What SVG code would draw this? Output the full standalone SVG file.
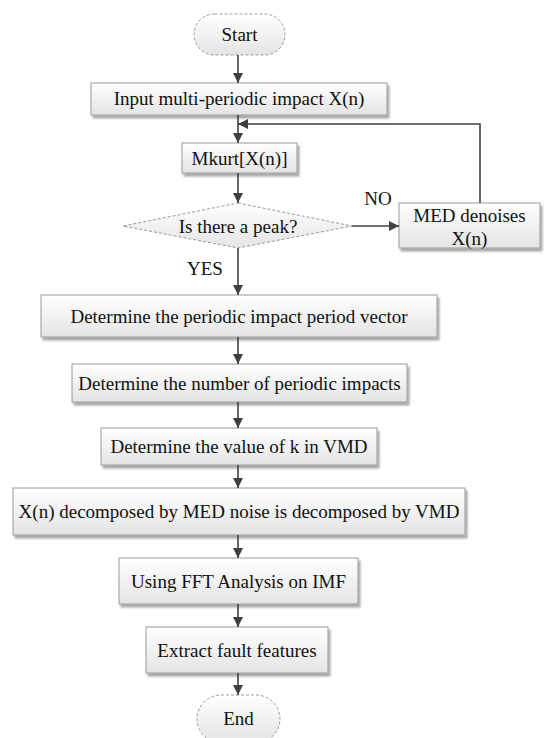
<svg xmlns="http://www.w3.org/2000/svg" width="550" height="738" viewBox="0 0 550 738">
<defs>
<linearGradient id="g" x1="0" y1="0" x2="0" y2="1">
<stop offset="0" stop-color="#ffffff"/>
<stop offset="1" stop-color="#e4e4e4"/>
</linearGradient>
<filter id="shadow" x="-5%" y="-20%" width="115%" height="150%">
<feGaussianBlur in="SourceAlpha" stdDeviation="1.2"/>
<feOffset dx="1.5" dy="2.5" result="b"/>
<feComponentTransfer><feFuncA type="linear" slope="0.35"/></feComponentTransfer>
<feMerge><feMergeNode/><feMergeNode in="SourceGraphic"/></feMerge>
</filter>
<marker id="ah" viewBox="0 0 10 10" refX="10" refY="5" markerWidth="10" markerHeight="10" markerUnits="userSpaceOnUse" orient="auto">
<path d="M0,0 L10,5 L0,10 z" fill="#404040"/>
</marker>
</defs>
<style>
.box{fill:url(#g);stroke:#9a9a9a;stroke-width:1;filter:url(#shadow)}
.dash{fill:url(#g);stroke:#9a9a9a;stroke-width:1;stroke-dasharray:3,2}
.t{font-family:'Liberation Serif','DejaVu Serif',serif;font-size:19px;fill:#111;text-anchor:middle;dominant-baseline:central}
.c{fill:none;stroke:#404040;stroke-width:1.6;marker-end:url(#ah)}
</style>
<rect width="550" height="738" fill="#fff"/>
<g id="start">
<rect class="dash" x="194" y="14" width="91" height="41" rx="20.5"/>
<text class="t" x="239.5" y="34.5" font-family="Liberation Serif, DejaVu Serif, serif">Start</text>
</g>
<g id="input">
<rect class="box" x="91" y="83" width="296" height="32"/>
<text class="t" x="239" y="98.5" font-family="Liberation Serif, DejaVu Serif, serif">Input multi-periodic impact X(n)</text>
</g>
<g id="mkurt">
<rect class="box" x="182" y="143" width="115" height="30"/>
<text class="t" x="239.5" y="158" font-family="Liberation Serif, DejaVu Serif, serif">Mkurt[X(n)]</text>
</g>
<g id="peak">
<polygon class="dash" points="238,203 352,226 238,248 123,226"/>
<text class="t" x="238" y="226" font-family="Liberation Serif, DejaVu Serif, serif">Is there a peak?</text>
</g>
<g id="med">
<rect class="box" x="399" y="203" width="141" height="45"/>
<text class="t" x="469.5" y="215" font-family="Liberation Serif, DejaVu Serif, serif">MED denoises</text>
<text class="t" x="469.5" y="238" font-family="Liberation Serif, DejaVu Serif, serif">X(n)</text>
</g>
<g id="vector">
<rect class="box" x="41" y="295" width="396" height="42"/>
<text class="t" x="239" y="316" font-family="Liberation Serif, DejaVu Serif, serif">Determine the periodic impact period vector</text>
</g>
<g id="number">
<rect class="box" x="72" y="364" width="335" height="38"/>
<text class="t" x="239.5" y="383" font-family="Liberation Serif, DejaVu Serif, serif">Determine the number of periodic impacts</text>
</g>
<g id="kvalue">
<rect class="box" x="101" y="428" width="276" height="37"/>
<text class="t" x="239" y="446.5" font-family="Liberation Serif, DejaVu Serif, serif">Determine the value of k in VMD</text>
</g>
<g id="decomp">
<rect class="box" x="13" y="488" width="452" height="47"/>
<text class="t" x="239" y="511.5" font-family="Liberation Serif, DejaVu Serif, serif">X(n) decomposed by MED noise is decomposed by VMD</text>
</g>
<g id="fft">
<rect class="box" x="119" y="558" width="239" height="46"/>
<text class="t" x="238.5" y="581" font-family="Liberation Serif, DejaVu Serif, serif">Using FFT Analysis on IMF</text>
</g>
<g id="extract">
<rect class="box" x="146" y="627" width="182" height="46"/>
<text class="t" x="237" y="650" font-family="Liberation Serif, DejaVu Serif, serif">Extract fault features</text>
</g>
<g id="end">
<rect class="dash" x="197" y="695" width="83" height="48" rx="24"/>
<text class="t" x="238.5" y="718" font-family="Liberation Serif, DejaVu Serif, serif">End</text>
</g>
<g id="connectors">
<line class="c" x1="238" y1="55" x2="238" y2="83"/>
<line class="c" x1="238" y1="115" x2="238" y2="143"/>
<polyline class="c" points="480,203 480,124 238,124"/>
<line class="c" x1="238" y1="173" x2="238" y2="203"/>
<line class="c" x1="352" y1="226" x2="399" y2="226"/>
<text class="t" x="378" y="198" font-family="Liberation Serif, DejaVu Serif, serif">NO</text>
<line class="c" x1="238" y1="248" x2="238" y2="295"/>
<text class="t" x="205" y="268" font-family="Liberation Serif, DejaVu Serif, serif">YES</text>
<line class="c" x1="238" y1="337" x2="238" y2="364"/>
<line class="c" x1="238" y1="402" x2="238" y2="428"/>
<line class="c" x1="238" y1="465" x2="238" y2="488"/>
<line class="c" x1="238" y1="535" x2="238" y2="558"/>
<line class="c" x1="238" y1="604" x2="238" y2="627"/>
<line class="c" x1="238" y1="673" x2="238" y2="695"/>
</g>
</svg>
